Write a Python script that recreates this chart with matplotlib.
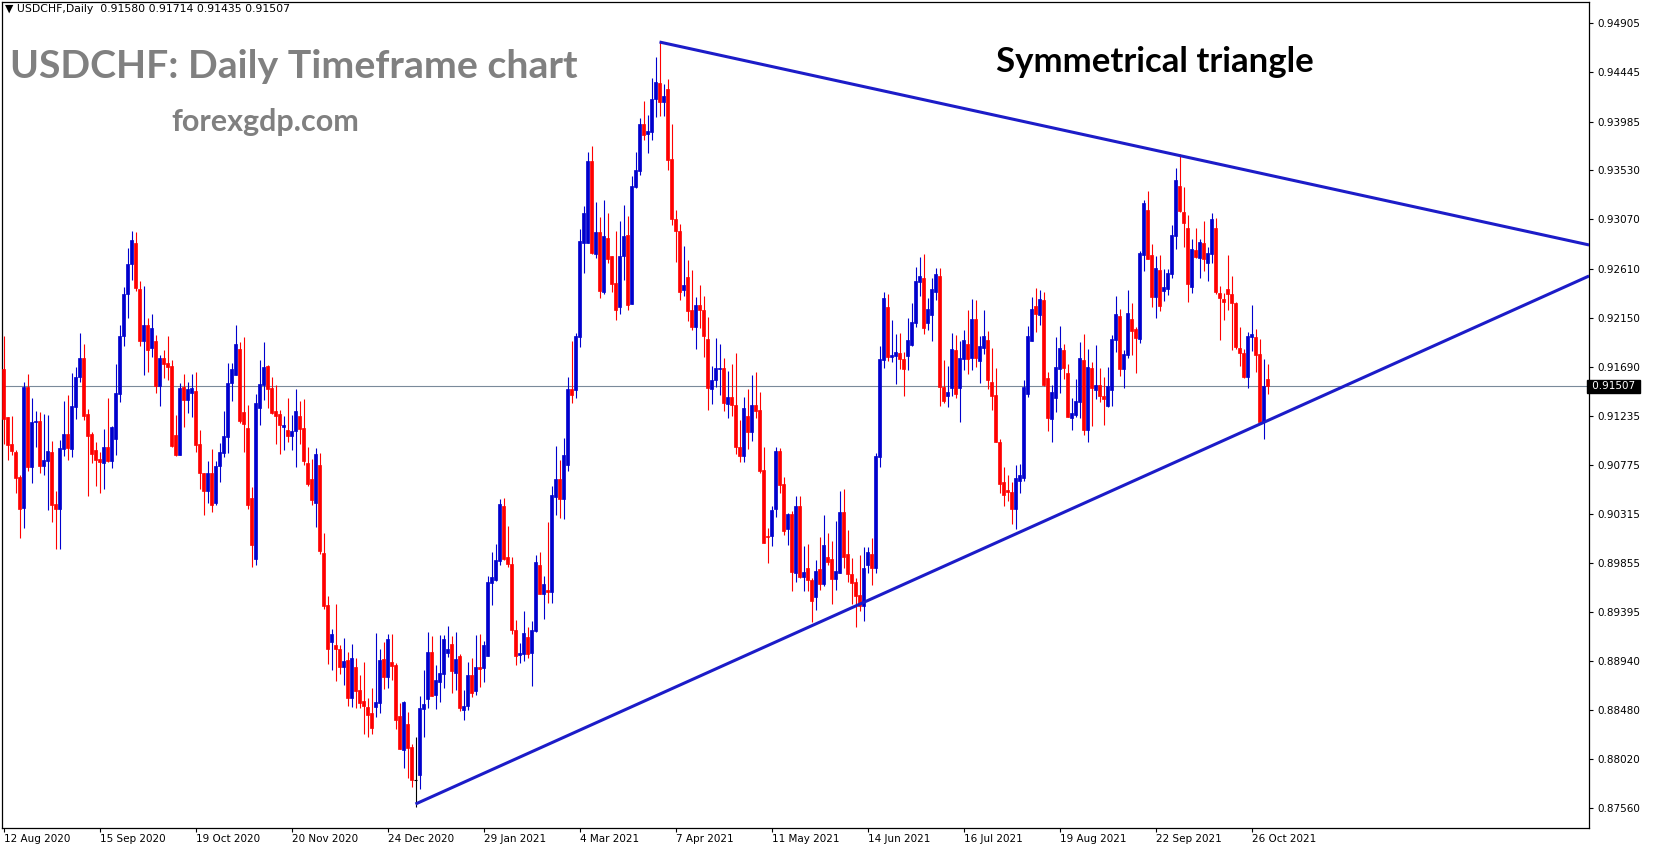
import matplotlib
matplotlib.use("Agg")
import matplotlib.pyplot as plt
import numpy as np

# daily OHLC, USDCHF, 12 Aug 2020 .. end of Oct 2021
opens = [
    0.91675, 0.91217, 0.90967, 0.90892, 0.90661, 0.90371, 0.91498, 0.90755, 0.91170, 0.91182,
    0.90764, 0.90811, 0.90892, 0.90406, 0.90362, 0.90924, 0.91061, 0.90924, 0.91317, 0.91597,
    0.91772, 0.91248, 0.91061, 0.90911, 0.90827, 0.90792, 0.90939, 0.90808, 0.91017, 0.91438,
    0.91975, 0.92374, 0.92655, 0.92854, 0.92415, 0.91931, 0.92078, 0.91865, 0.91937, 0.91510,
    0.91769, 0.91722, 0.91694, 0.91057, 0.90864, 0.91500, 0.91379, 0.91444, 0.91460, 0.90964,
    0.90702, 0.90527, 0.90702, 0.90415, 0.90761, 0.90883, 0.91032, 0.91538, 0.91613, 0.91856,
    0.91266, 0.91120, 0.90462, 0.89894, 0.91304, 0.91519, 0.91697, 0.91491, 0.91276, 0.91248,
    0.91129, 0.91098, 0.91045, 0.91092, 0.91229, 0.91117, 0.90789, 0.90639, 0.90418, 0.90770,
    0.89947, 0.89460, 0.89117, 0.89086, 0.89048, 0.88883, 0.88945, 0.88593, 0.88880, 0.88665,
    0.88562, 0.88506, 0.88449, 0.88509, 0.88546, 0.88955, 0.88789, 0.88927, 0.88902, 0.88424,
    0.88106, 0.88346, 0.88134, 0.87828, 0.87872, 0.88487, 0.88583, 0.89020, 0.88621, 0.88743,
    0.88818, 0.89011, 0.89095, 0.88827, 0.88983, 0.88481, 0.88515, 0.88805, 0.88660, 0.88879,
    0.88870, 0.88982, 0.89669, 0.89700, 0.89872, 0.90386, 0.89909, 0.89844, 0.89226, 0.88992,
    0.89001, 0.89160, 0.89011, 0.89216, 0.89834, 0.89566, 0.89600, 0.89581, 0.90474, 0.90639,
    0.90455, 0.90773, 0.91482, 0.91475, 0.91971, 0.92851, 0.92851, 0.93616, 0.92749, 0.92951,
    0.92393, 0.92895, 0.92727, 0.92471, 0.92252, 0.92727, 0.92923, 0.92280, 0.93376, 0.93525,
    0.93962, 0.93872, 0.93890, 0.94196, 0.94346, 0.94168, 0.94290, 0.93638, 0.93076, 0.92961,
    0.92411, 0.92533, 0.92224, 0.92062, 0.92265, 0.92227, 0.91947, 0.91482, 0.91566, 0.91669,
    0.91684, 0.91341, 0.91413, 0.91338, 0.90945, 0.90855, 0.91226, 0.91079, 0.91338, 0.91285,
    0.90724, 0.90112, 0.90106, 0.90358, 0.90901, 0.90592, 0.90171, 0.90318, 0.89759, 0.90393,
    0.89722, 0.89813, 0.89695, 0.89536, 0.89795, 0.89657, 0.89916, 0.89888, 0.89704, 0.89757,
    0.90337, 0.89944, 0.89751, 0.89676, 0.89554, 0.89451, 0.89832, 0.89944, 0.89813, 0.90843,
    0.91751, 0.92247, 0.91779, 0.91788, 0.91816, 0.91760, 0.91788, 0.91891, 0.92097, 0.92481,
    0.92518, 0.92103, 0.92178, 0.92393, 0.92537, 0.91498, 0.91414, 0.91492, 0.91844, 0.91489,
    0.91760, 0.91900, 0.91769, 0.92134, 0.91741, 0.91863, 0.91938, 0.91545, 0.91423, 0.90992,
    0.90609, 0.90534, 0.90515, 0.90359, 0.90627, 0.90646, 0.91432, 0.91928, 0.92256, 0.92172,
    0.92315, 0.91585, 0.91204, 0.91401, 0.91672, 0.91847, 0.91632, 0.91214, 0.91242, 0.91364,
    0.91754, 0.91101, 0.91679, 0.91476, 0.91520, 0.91420, 0.91326, 0.91476, 0.91941, 0.92165,
    0.91669, 0.91800, 0.92137, 0.92044, 0.91950, 0.92736, 0.93158, 0.92736, 0.92340, 0.92593,
    0.92397, 0.92419, 0.92556, 0.92911, 0.93379, 0.93136, 0.92986, 0.92434, 0.92780, 0.92706,
    0.92846, 0.92659, 0.92743, 0.92986, 0.92378, 0.92322, 0.92415, 0.92369, 0.92284, 0.91863,
    0.91816, 0.91592, 0.91966, 0.91966, 0.91807, 0.91170, 0.91580,
]
highs = [
    0.91978, 0.91223, 0.91229, 0.90911, 0.90677, 0.91547, 0.91622, 0.91398, 0.91276, 0.91267,
    0.91248, 0.91239, 0.90995, 0.90527, 0.91005, 0.91370, 0.91426, 0.91632, 0.91688, 0.92006,
    0.91903, 0.91295, 0.91080, 0.90986, 0.90892, 0.91108, 0.91398, 0.91136, 0.91716, 0.92081,
    0.92436, 0.92801, 0.92957, 0.92948, 0.92490, 0.92443, 0.92146, 0.92181, 0.91993, 0.91797,
    0.91844, 0.91975, 0.91750, 0.91238, 0.91544, 0.91628, 0.91553, 0.91619, 0.91647, 0.91095,
    0.90702, 0.90805, 0.90920, 0.90805, 0.90976, 0.91276, 0.91722, 0.91722, 0.92078, 0.91922,
    0.91968, 0.91332, 0.90564, 0.91435, 0.91753, 0.91922, 0.91706, 0.91594, 0.91519, 0.91285,
    0.91229, 0.91398, 0.91238, 0.91482, 0.91369, 0.91388, 0.90939, 0.90827, 0.90933, 0.90883,
    0.90134, 0.89547, 0.89239, 0.89469, 0.89086, 0.89151, 0.89020, 0.89095, 0.88964, 0.88805,
    0.88927, 0.88590, 0.88683, 0.89198, 0.89048, 0.89114, 0.89189, 0.89189, 0.88917, 0.88543,
    0.88562, 0.88459, 0.88162, 0.88225, 0.88608, 0.88852, 0.89207, 0.89170, 0.88899, 0.89179,
    0.89179, 0.89264, 0.89170, 0.89207, 0.89002, 0.88665, 0.88926, 0.88964, 0.89179, 0.89188,
    0.89123, 0.89731, 0.89956, 0.90031, 0.90455, 0.90461, 0.90199, 0.89909, 0.89319, 0.89104,
    0.89404, 0.89254, 0.89310, 0.89928, 0.89956, 0.89731, 0.90237, 0.90574, 0.90948, 0.90817,
    0.91023, 0.91594, 0.91931, 0.92006, 0.92979, 0.93195, 0.93700, 0.93756, 0.93232, 0.93092,
    0.93251, 0.93129, 0.92727, 0.92961, 0.93054, 0.93204, 0.93101, 0.93475, 0.93700, 0.94018,
    0.94177, 0.94046, 0.94393, 0.94589, 0.94730, 0.94337, 0.94383, 0.93962, 0.93160, 0.93026,
    0.92823, 0.92692, 0.92599, 0.92340, 0.92461, 0.92349, 0.92153, 0.91694, 0.91956, 0.91909,
    0.91778, 0.91656, 0.91713, 0.91816, 0.91191, 0.91404, 0.91479, 0.91610, 0.91647, 0.91451,
    0.90939, 0.90187, 0.90393, 0.90939, 0.90929, 0.90658, 0.90327, 0.90346, 0.90480, 0.90480,
    0.90012, 0.90031, 0.89713, 0.89879, 0.90094, 0.90300, 0.90132, 0.90057, 0.90244, 0.90525,
    0.90543, 0.90160, 0.89898, 0.89713, 0.89926, 0.90001, 0.90001, 0.90085, 0.90880, 0.91882,
    0.92387, 0.92369, 0.92125, 0.91994, 0.92004, 0.91826, 0.92144, 0.92284, 0.92621, 0.92715,
    0.92743, 0.92331, 0.92518, 0.92620, 0.92620, 0.91751, 0.91694, 0.92003, 0.91985, 0.91928,
    0.92031, 0.92219, 0.92322, 0.92312, 0.91975, 0.92219, 0.92022, 0.91863, 0.91676, 0.91011,
    0.90758, 0.90674, 0.90609, 0.90768, 0.90777, 0.91563, 0.92069, 0.92340, 0.92425, 0.92406,
    0.92390, 0.91641, 0.91520, 0.91969, 0.92072, 0.91903, 0.91716, 0.91401, 0.91579, 0.91922,
    0.91997, 0.91857, 0.91735, 0.91894, 0.91679, 0.91594, 0.91688, 0.91988, 0.92353, 0.92231,
    0.91847, 0.92409, 0.92287, 0.92063, 0.92774, 0.93251, 0.93335, 0.92839, 0.92724, 0.92734,
    0.92603, 0.92603, 0.93014, 0.93548, 0.93679, 0.93370, 0.93108, 0.92883, 0.92986, 0.92883,
    0.93052, 0.92808, 0.93127, 0.93080, 0.92443, 0.92378, 0.92734, 0.92537, 0.92300, 0.92060,
    0.91854, 0.92013, 0.92266, 0.92041, 0.91947, 0.91760, 0.91714,
]
lows = [
    0.90973, 0.90817, 0.90864, 0.90512, 0.90090, 0.90184, 0.90718, 0.90605, 0.90942, 0.90693,
    0.90680, 0.90349, 0.90240, 0.89987, 0.89987, 0.90855, 0.90817, 0.90849, 0.91204, 0.91551,
    0.91192, 0.90484, 0.90792, 0.90574, 0.90512, 0.90546, 0.90799, 0.90746, 0.90867, 0.91363,
    0.91890, 0.92146, 0.92499, 0.92399, 0.91890, 0.91610, 0.91641, 0.91781, 0.91444, 0.91323,
    0.91585, 0.91563, 0.90939, 0.90861, 0.90864, 0.91126, 0.91257, 0.91220, 0.90892, 0.90546,
    0.90302, 0.90415, 0.90330, 0.90396, 0.90611, 0.90845, 0.90883, 0.91370, 0.91613, 0.91167,
    0.90895, 0.90362, 0.89819, 0.89838, 0.91148, 0.91379, 0.91304, 0.91251, 0.90970, 0.90877,
    0.90914, 0.90989, 0.90914, 0.90755, 0.90970, 0.90774, 0.90574, 0.90399, 0.90193, 0.89944,
    0.89426, 0.88911, 0.88855, 0.88752, 0.88818, 0.88714, 0.88518, 0.88508, 0.88499, 0.88499,
    0.88256, 0.88228, 0.88256, 0.88415, 0.88452, 0.88677, 0.88687, 0.88761, 0.88303, 0.88115,
    0.87938, 0.87844, 0.87760, 0.87573, 0.87741, 0.88228, 0.88499, 0.88612, 0.88490, 0.88555,
    0.88687, 0.88977, 0.88640, 0.88668, 0.88471, 0.88387, 0.88480, 0.88600, 0.88620, 0.88695,
    0.88739, 0.88982, 0.89460, 0.89691, 0.89834, 0.89881, 0.89816, 0.89188, 0.88898, 0.88917,
    0.88936, 0.88964, 0.88702, 0.89207, 0.89566, 0.89329, 0.89482, 0.89482, 0.90302, 0.90277,
    0.90268, 0.90717, 0.91354, 0.91400, 0.91878, 0.92571, 0.92851, 0.92749, 0.92711, 0.92337,
    0.92374, 0.92664, 0.92393, 0.92131, 0.92187, 0.92505, 0.92224, 0.92280, 0.93366, 0.93488,
    0.93816, 0.93694, 0.93816, 0.94031, 0.94040, 0.94040, 0.93535, 0.93020, 0.92674, 0.92318,
    0.92355, 0.92121, 0.92034, 0.91856, 0.92053, 0.91781, 0.91285, 0.91341, 0.91500, 0.91426,
    0.91276, 0.91210, 0.91229, 0.90873, 0.90798, 0.90798, 0.90920, 0.90995, 0.91210, 0.90695,
    0.90040, 0.89853, 0.90012, 0.90284, 0.90508, 0.90115, 0.90021, 0.89597, 0.89675, 0.89713,
    0.89597, 0.89597, 0.89302, 0.89414, 0.89601, 0.89639, 0.89832, 0.89470, 0.89601, 0.89757,
    0.89813, 0.89676, 0.89473, 0.89255, 0.89405, 0.89317, 0.89766, 0.89648, 0.89766, 0.90749,
    0.91676, 0.91741, 0.91732, 0.91526, 0.91667, 0.91414, 0.91657, 0.91882, 0.92060, 0.92350,
    0.91994, 0.92038, 0.91935, 0.92318, 0.91326, 0.91348, 0.91311, 0.91414, 0.91395, 0.91170,
    0.91657, 0.91620, 0.91657, 0.91685, 0.91535, 0.91807, 0.91479, 0.91283, 0.90983, 0.90506,
    0.90393, 0.90431, 0.90216, 0.90178, 0.90506, 0.90618, 0.91404, 0.91928, 0.92013, 0.92078,
    0.91510, 0.91092, 0.90989, 0.91270, 0.91448, 0.91579, 0.91223, 0.91101, 0.91223, 0.91214,
    0.91055, 0.90989, 0.91139, 0.91392, 0.91364, 0.91148, 0.91317, 0.91326, 0.91828, 0.91607,
    0.91495, 0.91772, 0.91800, 0.91635, 0.91913, 0.92587, 0.92699, 0.92250, 0.92147, 0.92213,
    0.92303, 0.92359, 0.92521, 0.92790, 0.93136, 0.92808, 0.92294, 0.92378, 0.92706, 0.92518,
    0.92584, 0.92490, 0.92659, 0.92369, 0.91938, 0.92125, 0.92219, 0.91844, 0.91854, 0.91695,
    0.91582, 0.91489, 0.91835, 0.91638, 0.91161, 0.91015, 0.91435,
]
closes = [
    0.91198, 0.90958, 0.90905, 0.90652, 0.90362, 0.91498, 0.90755, 0.91173, 0.91182, 0.90764,
    0.90817, 0.90902, 0.90399, 0.90362, 0.90930, 0.91061, 0.90933, 0.91323, 0.91594, 0.91772,
    0.91229, 0.91045, 0.90874, 0.90817, 0.90799, 0.90939, 0.90808, 0.91126, 0.91445, 0.91978,
    0.92374, 0.92655, 0.92879, 0.92427, 0.91931, 0.92078, 0.91850, 0.92053, 0.91510, 0.91769,
    0.91713, 0.91688, 0.90948, 0.90870, 0.91491, 0.91379, 0.91479, 0.91491, 0.90958, 0.90696,
    0.90527, 0.90702, 0.90396, 0.90767, 0.90892, 0.91039, 0.91535, 0.91666, 0.91900, 0.91185,
    0.91157, 0.90399, 0.90025, 0.91351, 0.91529, 0.91688, 0.91482, 0.91260, 0.91232, 0.91148,
    0.91145, 0.91045, 0.91089, 0.91276, 0.91110, 0.90811, 0.90593, 0.90446, 0.90873, 0.89969,
    0.89454, 0.89051, 0.89189, 0.89051, 0.88883, 0.88936, 0.88593, 0.88964, 0.88658, 0.88546,
    0.88518, 0.88434, 0.88312, 0.88552, 0.88945, 0.88789, 0.89142, 0.88892, 0.88387, 0.88115,
    0.88556, 0.88125, 0.87825, 0.87828, 0.88496, 0.88534, 0.89020, 0.88612, 0.88758, 0.88824,
    0.89142, 0.89048, 0.88846, 0.88955, 0.88499, 0.88515, 0.88805, 0.88640, 0.88879, 0.88861,
    0.89085, 0.89675, 0.89722, 0.89881, 0.90405, 0.89890, 0.89844, 0.89226, 0.88982, 0.89011,
    0.89198, 0.89001, 0.89226, 0.89862, 0.89566, 0.89656, 0.89581, 0.90489, 0.90639, 0.90455,
    0.90864, 0.91482, 0.91429, 0.91978, 0.92870, 0.93129, 0.93616, 0.92758, 0.92951, 0.92402,
    0.92914, 0.92702, 0.92468, 0.92224, 0.92727, 0.92914, 0.92271, 0.93382, 0.93532, 0.93962,
    0.93862, 0.93897, 0.94196, 0.94355, 0.94168, 0.94224, 0.93628, 0.93076, 0.92964, 0.92393,
    0.92458, 0.92215, 0.92065, 0.92265, 0.92218, 0.91978, 0.91491, 0.91572, 0.91684, 0.91684,
    0.91351, 0.91413, 0.91332, 0.90939, 0.90855, 0.91301, 0.91079, 0.91329, 0.91276, 0.90714,
    0.90040, 0.90096, 0.90355, 0.90901, 0.90583, 0.90153, 0.90318, 0.89769, 0.90393, 0.89722,
    0.89769, 0.89694, 0.89498, 0.89785, 0.89657, 0.90019, 0.89869, 0.89704, 0.89776, 0.90337,
    0.89907, 0.89751, 0.89667, 0.89545, 0.89451, 0.89813, 0.89954, 0.89813, 0.90852, 0.91760,
    0.92331, 0.91779, 0.91798, 0.91826, 0.91760, 0.91667, 0.91938, 0.92106, 0.92490, 0.92537,
    0.92050, 0.92228, 0.92415, 0.92556, 0.91498, 0.91367, 0.91451, 0.91854, 0.91432, 0.91769,
    0.91938, 0.91760, 0.92134, 0.91769, 0.91882, 0.91975, 0.91563, 0.91414, 0.90983, 0.90599,
    0.90496, 0.90515, 0.90365, 0.90655, 0.90674, 0.91498, 0.91975, 0.92228, 0.92181, 0.92322,
    0.91520, 0.91214, 0.91454, 0.91688, 0.91866, 0.91682, 0.91223, 0.91261, 0.91373, 0.91772,
    0.91101, 0.91688, 0.91495, 0.91520, 0.91420, 0.91392, 0.91510, 0.91950, 0.92184, 0.91669,
    0.91810, 0.92194, 0.92025, 0.91960, 0.92755, 0.93223, 0.92699, 0.92343, 0.92612, 0.92256,
    0.92434, 0.92565, 0.92921, 0.93436, 0.93145, 0.93033, 0.92462, 0.92790, 0.92715, 0.92855,
    0.92696, 0.92752, 0.93071, 0.92387, 0.92331, 0.92294, 0.92369, 0.92284, 0.91872, 0.91816,
    0.91592, 0.91975, 0.91994, 0.91798, 0.91170, 0.91507, 0.91507,
]

date_labels = ["12 Aug 2020", "15 Sep 2020", "19 Oct 2020", "20 Nov 2020", "24 Dec 2020",
               "29 Jan 2021", "4 Mar 2021", "7 Apr 2021", "11 May 2021", "14 Jun 2021",
               "16 Jul 2021", "19 Aug 2021", "22 Sep 2021", "26 Oct 2021"]
bars_per_label = 24

price_ticks = ["0.94905", "0.94445", "0.93985", "0.93530", "0.93070", "0.92610", "0.92150",
               "0.91690", "0.91235", "0.90775", "0.90315", "0.89855", "0.89395", "0.88940",
               "0.88480", "0.88020", "0.87560"]

# trendlines: (bar, price) anchors, extended to the right edge
upper_line = [(164, 0.94730), (396.4, 0.92831)]
lower_line = [(103, 0.87600), (396.4, 0.92541)]

last_price = 0.91507
header = "\u25bc USDCHF,Daily  0.91580 0.91714 0.91435 0.91507"

W, H = 1653, 850
fig = plt.figure(figsize=(W / 100, H / 100), dpi=100)
fig.patch.set_facecolor("white")
# plot frame in pixels: x 2..1589, y 2..827.5
ax = fig.add_axes([2 / W, 1 - 827.5 / H, 1587 / W, 825.5 / H])

o = np.array(opens)
hi = np.array(highs)
lo = np.array(lows)
c = np.array(closes)
x = np.arange(len(o))

bull, bear = "#0000cd", "#ff0000"
cols = np.where(c > o, bull, np.where(c < o, bear, "black"))

ax.axhline(last_price, color="#7a8a9a", lw=0.8, zorder=1)
ax.vlines(x, lo, hi, colors=cols, lw=0.8, zorder=2)
body = c != o
ax.bar(x[body], np.abs(c - o)[body], bottom=np.minimum(o, c)[body], width=0.62,
       color=cols[body], edgecolor=cols[body], lw=0.5, zorder=3)
ax.hlines(o[~body], x[~body] - 0.4, x[~body] + 0.4, colors="black", lw=0.8, zorder=3)

for line in (upper_line, lower_line):
    ax.plot([p[0] for p in line], [p[1] for p in line], color="#1c1cc8", lw=2.2,
            solid_capstyle="butt", zorder=4)

ax.set_xlim(-0.375, 396.375)
ax.set_ylim(0.873804, 0.951043)

for s in ax.spines.values():
    s.set_color("black")
    s.set_linewidth(0.9)

ax.yaxis.tick_right()
ax.set_yticks([float(t) for t in price_ticks])
ax.set_yticklabels(price_ticks)
ax.tick_params(axis="y", direction="out", length=3, width=0.8, pad=3, labelsize=7.5)

ax.set_xticks(np.arange(len(date_labels)) * bars_per_label)
ax.set_xticklabels(date_labels, ha="left")
ax.tick_params(axis="x", direction="out", length=3, width=0.8, pad=2, labelsize=7.5)

ax.text(1.0, last_price, " %.5f " % last_price, transform=ax.get_yaxis_transform(),
        ha="left", va="center", color="white", fontsize=7.5,
        bbox=dict(boxstyle="square,pad=0.15", fc="black", ec="black"))

fig.text(5 / W, 1 - 9 / H, header, fontsize=7.8, ha="left", va="center")
fig.text(10 / W, 1 - 66 / H, "USDCHF: Daily Timeframe chart", fontsize=28.3,
         fontweight="bold", color="#808080", family="Lato", ha="left", va="center")
fig.text(171 / W, 1 - 122 / H, "forexgdp.com", fontsize=22, fontweight="bold",
         color="#808080", family="Lato", ha="left", va="center")
fig.text(996 / W, 1 - 62 / H, "Symmetrical triangle", fontsize=25, fontweight="bold",
         color="black", family="Lato", ha="left", va="center")

fig.savefig("out.png", dpi=100, facecolor="white")
